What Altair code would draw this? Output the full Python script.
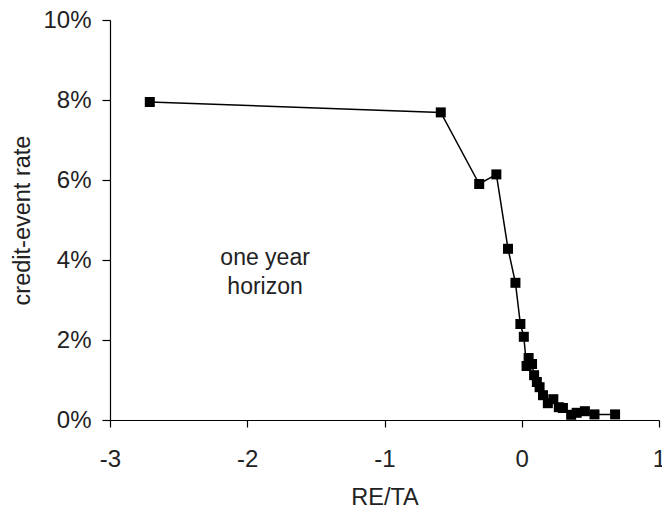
import altair as alt
import pandas as pd

# RE/TA bucket values and credit-event rates (fractions)
re_ta = [-2.71, -0.59, -0.31, -0.185, -0.10, -0.046, -0.01, 0.015, 0.035, 0.05,
         0.075, 0.09, 0.11, 0.13, 0.155, 0.19, 0.23, 0.27, 0.30, 0.36, 0.40,
         0.46, 0.53, 0.68]
rate = [0.0795, 0.0769, 0.0590, 0.0614, 0.0428, 0.0343, 0.0240, 0.0208, 0.0135,
        0.0155, 0.0140, 0.0112, 0.0095, 0.0082, 0.0062, 0.0042, 0.0052, 0.0032,
        0.0030, 0.0013, 0.0018, 0.0022, 0.0014, 0.0014]

x_ticks = [-3, -2, -1, 0, 1]
y_ticks = [0, 0.02, 0.04, 0.06, 0.08, 0.10]

note_text = ["one year", "horizon"]
note_x = [-1.87]
note_y = [0.0405]

df = pd.DataFrame({"x": re_ta, "y": rate, "order": list(range(len(re_ta)))})
note = pd.DataFrame({"x": note_x, "y": note_y, "t": [note_text]})

FONT = "Liberation Sans"
TXT = "#222222"

xenc = alt.X("x:Q", scale=alt.Scale(domain=[-3, 1], nice=False, zero=False),
             axis=alt.Axis(values=x_ticks, title="RE/TA", grid=False,
                           labelExpr="datum.value", labelFontSize=24,
                           titleFontSize=23.5, labelPadding=20, titlePadding=14,
                           tickSize=7, labelFlush=False))
yenc = alt.Y("y:Q", scale=alt.Scale(domain=[0, 0.1], nice=False),
             axis=alt.Axis(values=y_ticks, format=".0%", title="credit-event rate",
                           grid=False, labelFontSize=24, titleFontSize=23.5,
                           labelPadding=11, titlePadding=8, tickSize=8))

line = alt.Chart(df).mark_line(color="black", strokeWidth=1.5).encode(
    x=xenc, y=yenc, order="order:Q")
pts = alt.Chart(df).mark_point(shape="square", filled=True, color="black",
                               size=100, opacity=1).encode(x="x:Q", y="y:Q")
txt = alt.Chart(note).mark_text(font=FONT, fontSize=23, color=TXT,
                                lineHeight=29, align="center",
                                baseline="middle").encode(
    x="x:Q", y="y:Q", text="t")

chart = alt.layer(line, pts, txt).properties(
    width=549, height=400,
    autosize=alt.AutoSizeParams(type="none"),
    padding={"left": 110, "top": 20, "right": 3, "bottom": 89},
).configure_view(stroke=None).configure_axis(
    domainColor="black", tickColor="black", labelColor=TXT, titleColor=TXT,
    labelFont=FONT, titleFont=FONT, titleFontWeight="normal", domainWidth=1.2,
    tickWidth=1.2
)

chart.save("out.html", embed_options={"renderer": "svg", "actions": False})
